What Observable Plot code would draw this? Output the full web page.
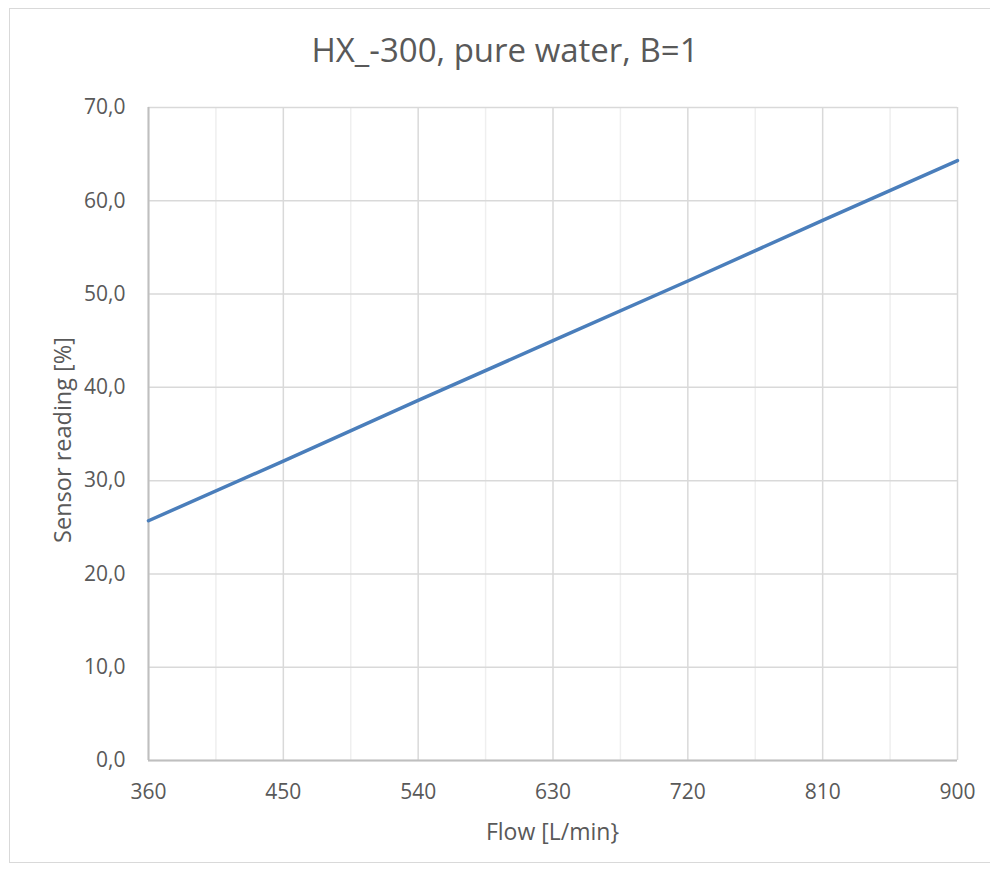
<!DOCTYPE html>
<html>
<head>
<meta charset="utf-8">
<script src="https://cdn.jsdelivr.net/npm/d3@7"></script>
<script src="https://cdn.jsdelivr.net/npm/@observablehq/plot@0.6"></script>
<style>
  html, body { margin: 0; padding: 0; background: #fff; }
  #wrap { position: relative; width: 990px; height: 870px; font-family: "Open Sans", "Noto Sans", sans-serif; color: #595959; }
  #frame { position: absolute; left: 9px; top: 8px; width: 990px; height: 855px; border: 1px solid #d9d9d9; box-sizing: border-box; }
  #title { position: absolute; left: 0; top: 0; width: 990px; height: 90px; text-align: center; padding-left: 20px; box-sizing: border-box;
           font-size: 33px; line-height: 100px; }
  #chart { position: absolute; left: 0; top: 90px; }
  #xlabel { position: absolute; left: 148px; width: 809px; top: 831px; text-align: center; font-size: 23px; line-height: 30px;
            transform: translateY(-50%); }
  #ylabel { position: absolute; left: 62px; top: 440px; font-size: 23.5px; line-height: 30px; white-space: nowrap;
            transform: translate(-50%, -50%) rotate(-90deg); }
</style>
</head>
<body>
<div id="wrap">
  <div id="frame"></div>
  <div id="title">HX_-300, pure water, B=1</div>
  <div id="chart"></div>
  <div id="xlabel">Flow [L/min}</div>
  <div id="ylabel">Sensor reading [%]</div>
</div>
<script>
const flow = [360, 450, 540, 630, 720, 810, 900];
const reading = [25.7, 32.1, 38.6, 45.0, 51.4, 57.9, 64.3];
const xTicks = [360, 450, 540, 630, 720, 810, 900];
const xMinor = [405, 495, 585, 675, 765, 855];
const yTicks = [0, 10, 20, 30, 40, 50, 60, 70];
const yLabels = ["0,0", "10,0", "20,0", "30,0", "40,0", "50,0", "60,0", "70,0"];

const data = flow.map((f, i) => ({flow: f, reading: reading[i]}));
const yFmt = v => yLabels[yTicks.indexOf(v)];

const chart = Plot.plot({
  width: 990,
  height: 780,
  marginLeft: 148,
  marginRight: 33,
  marginTop: 17,
  marginBottom: 110,
  style: { fontFamily: "'Open Sans', 'Noto Sans', sans-serif", fontSize: "21px", color: "#595959", background: "transparent" },
  x: { domain: [360, 900] },
  y: { domain: [0, 70] },
  marks: [
    Plot.ruleX(xMinor, { stroke: "#efefef", strokeWidth: 1.5 }),
    Plot.ruleX(xTicks, { stroke: "#d9d9d9", strokeWidth: 1.5 }),
    Plot.ruleY(yTicks, { stroke: "#d9d9d9", strokeWidth: 1.5 }),
    Plot.ruleX([360], { stroke: "#bfbfbf", strokeWidth: 2 }),
    Plot.ruleY([0], { stroke: "#bfbfbf", strokeWidth: 2 }),
    Plot.axisX({ ticks: xTicks, tickSize: 0, tickPadding: 24, tickFormat: d => String(d), label: null, fill: "#595959", fontSize: 21 }),
    Plot.axisY({ ticks: yTicks, tickSize: 0, tickPadding: 23, tickFormat: yFmt, label: null, fill: "#595959", fontSize: 21 }),
    Plot.line(data, { x: "flow", y: "reading", stroke: "#4a7ebb", strokeWidth: 3.5 })
  ]
});
document.getElementById("chart").appendChild(chart);
</script>
</body>
</html>
